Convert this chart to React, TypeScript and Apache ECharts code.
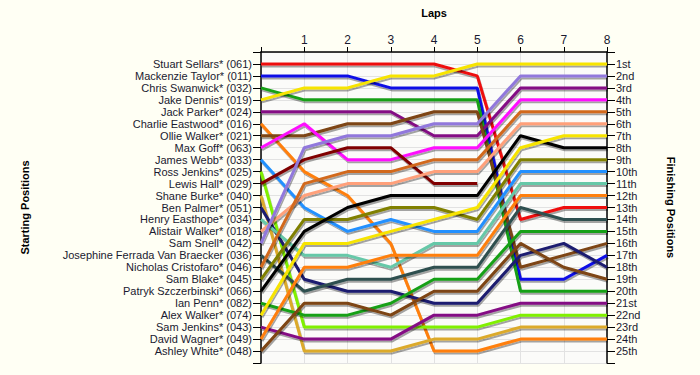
import React, { useEffect, useRef } from "react";
import * as echarts from "echarts";

const laps = [0, 1, 2, 3, 4, 5, 6, 7, 8];

const drivers = [
  "Stuart Sellars* (061)",
  "Mackenzie Taylor* (011)",
  "Chris Swanwick* (032)",
  "Jake Dennis* (019)",
  "Jack Parker* (024)",
  "Charlie Eastwood* (016)",
  "Ollie Walker* (021)",
  "Max Goff* (063)",
  "James Webb* (033)",
  "Ross Jenkins* (025)",
  "Lewis Hall* (029)",
  "Shane Burke* (040)",
  "Ben Palmer* (051)",
  "Henry Easthope* (034)",
  "Alistair Walker* (018)",
  "Sam Snell* (042)",
  "Josephine Ferrada Van Braecker (036)",
  "Nicholas Cristofaro* (046)",
  "Sam Blake* (045)",
  "Patryk Szczerbinski* (066)",
  "Ian Penn* (082)",
  "Alex Walker* (074)",
  "Sam Jenkins* (043)",
  "David Wagner* (049)",
  "Ashley White* (048)",
];

const finishLabels = [
  "1st", "2nd", "3rd", "4th", "5th", "6th", "7th", "8th", "9th", "10th",
  "11th", "12th", "13th", "14th", "15th", "16th", "17th", "18th", "19th", "20th",
  "21st", "22nd", "23rd", "24th", "25th",
];

// position of each driver at laps 0..8 (null = retired)
const stuartSellars = [1, 1, 1, 1, 1, 2, 14, 13, 13];
const mackenzieTaylor = [2, 2, 2, 3, 3, 3, 19, 19, 17];
const chrisSwanwick = [3, 4, 4, 4, 4, 4, 20, 20, 20];
const jakeDennis = [4, 3, 3, 2, 2, 1, 1, 1, 1];
const jackParker = [5, 5, 5, 5, 7, 7, 3, 3, 3];
const charlieEastwood = [6, 10, 12, 16, 25, 25, 24, 24, 24];
const ollieWalker = [7, 7, 6, 6, 5, 5, 18, 17, 16];
const maxGoff = [8, 6, 9, 9, 8, 8, 4, 4, 4];
const jamesWebb = [9, 13, 15, 14, 15, 15, 10, 10, 10];
const rossJenkins = [10, 23, 23, 23, 23, 23, 22, 22, 22];
const lewisHall = [11, 9, 8, 8, 11, 11, null, null, null];
const shaneBurke = [12, 25, 25, 25, 24, 24, 23, 23, 23];
const benPalmer = [13, 19, 20, 20, 21, 21, 17, 16, 18];
const henryEasthope = [14, 17, 17, 18, 16, 16, 11, 11, 11];
const alistairWalker = [15, 12, 11, 11, 10, 10, 6, 6, 6];
const samSnell = [16, 8, 7, 7, 6, 6, 2, 2, 2];
const josephine = [17, 20, 19, 19, 18, 18, 13, 14, 14];
const nicholasCristofaro = [18, 11, 10, 10, 9, 9, 5, 5, 5];
const samBlake = [19, 14, 14, 13, 13, 14, 9, 9, 9];
const patrykSzczerbinski = [20, 15, 13, 12, 12, 12, 7, 8, 8];
const ianPenn = [21, 22, 22, 21, 19, 19, 15, 15, 15];
const alexWalker = [22, 16, 16, 15, 14, 13, 8, 7, 7];
const samJenkins = [23, 24, 24, 24, 22, 22, 21, 21, 21];
const davidWagner = [24, 18, 18, 17, 17, 17, 12, 12, 12];
const ashleyWhite = [25, 21, 21, 22, 20, 20, 16, 18, 19];

const positions = [
  stuartSellars, mackenzieTaylor, chrisSwanwick, jakeDennis, jackParker,
  charlieEastwood, ollieWalker, maxGoff, jamesWebb, rossJenkins, lewisHall,
  shaneBurke, benPalmer, henryEasthope, alistairWalker, samSnell, josephine,
  nicholasCristofaro, samBlake, patrykSzczerbinski, ianPenn, alexWalker,
  samJenkins, davidWagner, ashleyWhite,
];

const lineColors = [
  "#ee1111", "#1111e6", "#17a017", "#f7e400", "#840a84",
  "#ff7f0a", "#7d4412", "#ff10ff", "#2090ff", "#80f000",
  "#800000", "#dcaa2c", "#1c1c70", "#66c8a8", "#ffa07a",
  "#9178dc", "#2f4f4f", "#d2691e", "#808000", "#000000",
  "#17a017", "#f7e400", "#840a84", "#ff7f0a", "#7d4412",
];

const labelColor = "#1a1a30";
const font = "'Liberation Sans', Arial, sans-serif";

export default function App() {
  const ref = useRef<HTMLDivElement>(null);

  useEffect(() => {
    if (!ref.current) return;
    const chart = echarts.init(ref.current, undefined, { renderer: "svg" });

    const series = drivers.map((name, i) => ({
      name,
      type: "line",
      yAxisIndex: 0,
      symbol: "none",
      connectNulls: false,
      data: laps
        .map((lap, k) => (positions[i][k] == null ? null : [lap, positions[i][k]]))
        .filter((d) => d !== null),
      lineStyle: {
        color: lineColors[i],
        width: 3,
        shadowColor: "rgba(0,0,0,0.35)",
        shadowBlur: 1,
        shadowOffsetX: 1,
        shadowOffsetY: 2,
      },
      itemStyle: { color: lineColors[i] },
      emphasis: { disabled: true },
    }));

    chart.setOption({
      animation: false,
      backgroundColor: "#fffff4",
      textStyle: { fontFamily: font },
      grid: {
        left: 261,
        right: 93,
        top: 52,
        bottom: 12,
        show: true,
        backgroundColor: "#fbfbf9",
        borderWidth: 0,
      },
      xAxis: {
        type: "value",
        position: "top",
        min: 0,
        max: 8,
        interval: 1,
        name: "Laps",
        nameLocation: "middle",
        nameGap: 34,
        nameTextStyle: { fontWeight: "bold", fontSize: 11, color: "#000", fontFamily: font },
        axisLine: { show: true, lineStyle: { color: "#000", width: 1.5 } },
        axisTick: { show: true, length: 5, lineStyle: { color: "#000" } },
        axisLabel: {
          fontSize: 12,
          color: labelColor,
          margin: 6,
          fontFamily: font,
          formatter: (v: number) => (v === 0 ? "" : String(v)),
        },
        splitLine: { show: true, lineStyle: { color: "#e2e2e2", width: 1 } },
      },
      yAxis: [
        {
          type: "value",
          position: "left",
          inverse: true,
          min: 0,
          max: 26,
          interval: 1,
          name: "Starting Positions",
          nameLocation: "middle",
          nameRotate: 90,
          nameGap: 231,
          nameTextStyle: { fontWeight: "bold", fontSize: 11, color: "#000", fontFamily: font },
          axisLine: { show: true, lineStyle: { color: "#000", width: 1.5 } },
          axisTick: { show: true, length: 8, lineStyle: { color: "#000" } },
          axisLabel: {
            fontSize: 11,
            lineHeight: 11,
            color: labelColor,
            margin: 9,
            fontFamily: font,
            formatter: (v: number) => drivers[v - 1] ?? "",
          },
          splitLine: { show: true, lineStyle: { color: "#e2e2e2", width: 1 } },
        },
        {
          type: "value",
          position: "right",
          inverse: true,
          min: 0,
          max: 26,
          interval: 1,
          name: "Finishing Positions",
          nameLocation: "middle",
          nameRotate: -90,
          nameGap: 58,
          nameTextStyle: { fontWeight: "bold", fontSize: 11, color: "#000", fontFamily: font },
          axisLine: { show: true, lineStyle: { color: "#000", width: 1.5 } },
          axisTick: { show: true, length: 8, lineStyle: { color: "#000" } },
          axisLabel: {
            fontSize: 11,
            lineHeight: 11,
            color: labelColor,
            margin: 9,
            fontFamily: font,
            formatter: (v: number) => finishLabels[v - 1] ?? "",
          },
          splitLine: { show: false },
        },
      ],
      series,
    });

    return () => chart.dispose();
  }, []);

  return (
    <div
      ref={ref}
      style={{ position: "fixed", left: 0, top: 0, width: 700, height: 375 }}
    />
  );
}
